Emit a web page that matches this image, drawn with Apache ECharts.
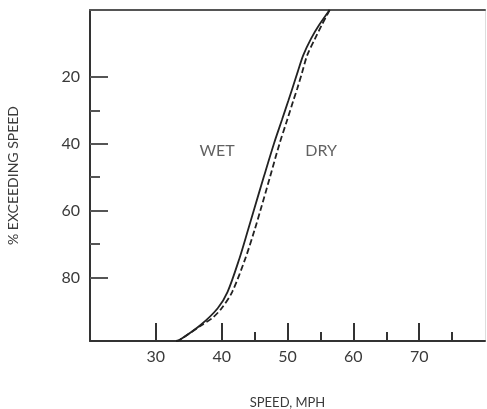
<!DOCTYPE html>
<html>
<head>
<meta charset="utf-8">
<script src="https://cdn.jsdelivr.net/npm/echarts@6/dist/echarts.min.js"></script>
<style>html,body{margin:0;padding:0;background:#fff;}#c{width:487px;height:409px;}</style>
</head>
<body>
<div id="c"></div>
<script>
// Speed (mph) vs % exceeding speed
const wetPct   = [0,    4.5,  8.5,  13.5, 18.5,  23.4,  27.0,  32.9,  39.9,  49.9, 59.8, 65.8, 74.3, 84.3, 89.2, 94.2, 98.7, 99];
const wetSpeed = [56.4, 54.8, 53.6, 52.4, 51.55, 50.75, 50.15, 49.15, 47.95, 46.4, 44.9, 44.0, 42.7, 40.9, 39.4, 36.8, 33.6, 33.1];
const dryPct   = [0,    4.5,  8.5,  13.5, 18.5,  23.4, 27.0, 32.9,  39.9, 49.9,  59.8, 65.8, 74.3, 84.3, 89.2, 92.1, 94.2, 98.7, 99];
const drySpeed = [56.4, 55.2, 54.2, 53.0, 52.25, 51.5, 50.9, 49.95, 48.8, 47.35, 45.9, 45.0, 43.6, 41.6, 40.0, 38.6, 37.0, 33.6, 33.1];
const xTickLabels = [30, 40, 50, 60, 70];
const xMinorTicks = [45, 55, 65, 75];
const yTickLabels = [20, 40, 60, 80];
const yMinorTicks = [30, 50, 70];
const curveLabelNames = ['WET', 'DRY'];
const curveLabelSpeed = [39.3, 55.1];
const curveLabelPct = [42.2, 42.2];

const textColor = '#3a3a3a';
const axisColor = '#333';
const font = 'Lato, "DejaVu Sans", sans-serif';

const chart = echarts.init(document.getElementById('c'), null, {renderer: 'canvas'});
chart.setOption({
  animation: false,
  backgroundColor: '#fff',
  grid: {left: 90, top: 10, right: 2, bottom: 68, containLabel: false, outerBoundsMode: 'none'},
  xAxis: [
    {
      type: 'value', min: 20, max: 80, position: 'bottom',
      name: 'SPEED, MPH', nameLocation: 'middle', nameGap: 55,
      nameTextStyle: {color: textColor, fontSize: 13, fontFamily: font},
      axisLine: {show: true, onZero: false, lineStyle: {color: axisColor, width: 2}},
      axisTick: {show: true, inside: true, length: 18, customValues: xTickLabels, lineStyle: {color: axisColor, width: 2}},
      axisLabel: {show: true, customValues: xTickLabels, margin: 8, color: textColor, fontSize: 16, fontFamily: font},
      splitLine: {show: false}
    },
    {
      type: 'value', min: 20, max: 80, position: 'bottom',
      axisLine: {show: false, onZero: false},
      axisTick: {show: true, inside: true, length: 9, customValues: xMinorTicks, lineStyle: {color: axisColor, width: 2}},
      axisLabel: {show: false},
      splitLine: {show: false}
    },
    {
      type: 'value', min: 20, max: 80, position: 'top',
      axisLine: {show: true, onZero: false, lineStyle: {color: '#555', width: 2}},
      axisTick: {show: false}, axisLabel: {show: false}, splitLine: {show: false}
    }
  ],
  yAxis: [
    {
      type: 'value', min: 0, max: 99, inverse: true, position: 'left',
      name: '% EXCEEDING SPEED', nameLocation: 'middle', nameGap: 70, nameRotate: 90,
      nameTextStyle: {color: textColor, fontSize: 14, fontFamily: font},
      axisLine: {show: true, onZero: false, lineStyle: {color: axisColor, width: 2}},
      axisTick: {show: true, inside: true, length: 18, customValues: yTickLabels, lineStyle: {color: '#555', width: 2}},
      axisLabel: {show: true, customValues: yTickLabels, margin: 10, color: textColor, fontSize: 16, fontFamily: font},
      splitLine: {show: false}
    },
    {
      type: 'value', min: 0, max: 99, inverse: true, position: 'left',
      axisLine: {show: false, onZero: false},
      axisTick: {show: true, inside: true, length: 10, customValues: yMinorTicks, lineStyle: {color: '#555', width: 2}},
      axisLabel: {show: false},
      splitLine: {show: false}
    },
    {
      type: 'value', min: 0, max: 99, inverse: true, position: 'right',
      axisLine: {show: true, onZero: false, lineStyle: {color: '#ddd', width: 1}},
      axisTick: {show: false}, axisLabel: {show: false}, splitLine: {show: false}
    }
  ],
  series: [
    {
      name: 'WET', type: 'line', xAxisIndex: 0, yAxisIndex: 0,
      data: wetSpeed.map((s, i) => [s, wetPct[i]]),
      smooth: 0.3, showSymbol: false, symbol: 'none',
      lineStyle: {color: '#222', width: 1.8, type: 'solid'}
    },
    {
      name: 'DRY', type: 'line', xAxisIndex: 0, yAxisIndex: 0,
      data: drySpeed.map((s, i) => [s, dryPct[i]]),
      smooth: 0.3, showSymbol: false, symbol: 'none',
      lineStyle: {color: '#222', width: 1.8, type: [6, 3]}
    },
    {
      name: 'labels', type: 'scatter', xAxisIndex: 0, yAxisIndex: 0,
      symbolSize: 1, itemStyle: {color: 'rgba(0,0,0,0)'},
      data: curveLabelNames.map((n, i) => ({name: n, value: [curveLabelSpeed[i], curveLabelPct[i]]})),
      label: {show: true, position: 'inside', formatter: p => p.name, color: textColor, fontSize: 16, fontFamily: font},
      silent: true
    }
  ]
});
</script>
</body>
</html>
